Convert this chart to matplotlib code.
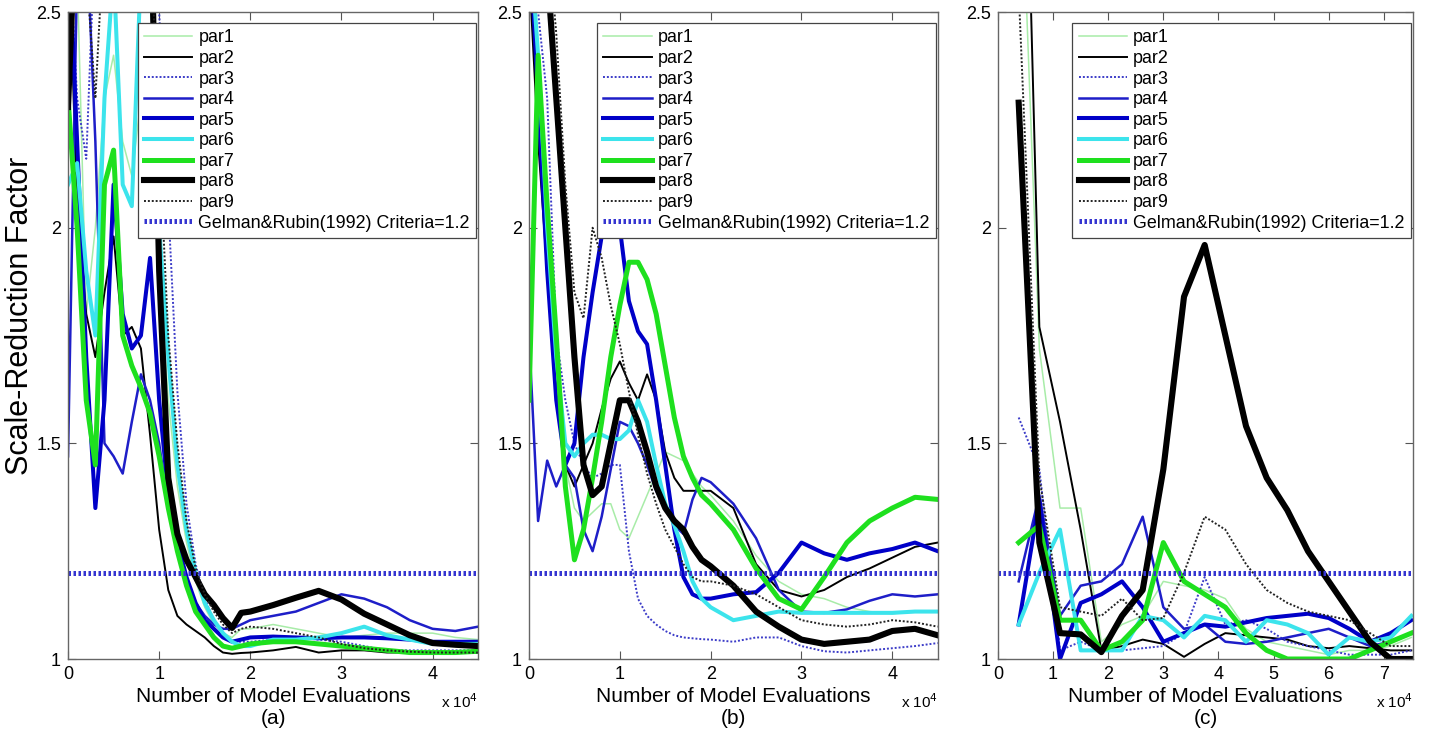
import matplotlib
matplotlib.use("Agg")
import matplotlib.pyplot as plt
from matplotlib.ticker import FixedLocator, FuncFormatter

plt.rcParams['font.family'] = ['Liberation Sans', 'DejaVu Sans']

# x grid (model evaluations) for panels (a) and (b)
x_ab = [0, 1000, 2000, 3000, 4000, 5000, 6000, 7000, 8000, 9000, 10000,
        11000, 12000, 13000, 14000, 15000, 16000, 17000, 18000, 19000, 20000,
        22500, 25000, 27500, 30000, 32500, 35000, 37500, 40000, 42500, 45000]

# panel (a)
a_par1 = [2.8, 2.6, 1.8, 2.0, 2.3, 2.4, 2.2, 2.12, 2.3, 2.2, 1.9, 1.6, 1.4, 1.27, 1.18, 1.12,
          1.08, 1.06, 1.05, 1.07, 1.07, 1.08, 1.07, 1.06, 1.05, 1.055, 1.06, 1.06, 1.06, 1.05, 1.045]
a_par2 = [2.7, 2.05, 1.8, 1.7, 1.85, 1.98, 1.75, 1.77, 1.72, 1.52, 1.3, 1.16, 1.1, 1.08, 1.065, 1.05,
          1.03, 1.015, 1.012, 1.014, 1.015, 1.02, 1.028, 1.015, 1.02, 1.02, 1.015, 1.015, 1.015, 1.015, 1.015]
a_par3 = [2.7, 2.3, 2.16, 2.7, 2.7, 2.7, 2.7, 2.7, 2.7, 2.7, 2.5, 2.05, 1.62, 1.36, 1.22, 1.14,
          1.09, 1.06, 1.04, 1.04, 1.04, 1.045, 1.05, 1.045, 1.04, 1.03, 1.02, 1.02, 1.02, 1.02, 1.02]
a_par4 = [1.47, 2.6, 2.7, 2.2, 1.5, 1.47, 1.43, 1.55, 1.66, 1.6, 1.5, 1.35, 1.25, 1.18, 1.13, 1.10,
          1.08, 1.07, 1.07, 1.08, 1.09, 1.10, 1.11, 1.13, 1.15, 1.14, 1.12, 1.09, 1.07, 1.065, 1.075]
a_par5 = [2.7, 2.2, 1.7, 1.35, 1.6, 2.1, 1.8, 1.72, 1.75, 1.93, 1.6, 1.38, 1.27, 1.19, 1.13, 1.09,
          1.07, 1.05, 1.04, 1.045, 1.05, 1.052, 1.05, 1.048, 1.05, 1.05, 1.048, 1.045, 1.04, 1.04, 1.04]
a_par6 = [2.1, 2.15, 1.9, 1.75, 2.3, 2.6, 2.1, 2.05, 2.6, 2.7, 2.0, 1.7, 1.45, 1.3, 1.2, 1.13,
          1.09, 1.06, 1.04, 1.03, 1.03, 1.045, 1.045, 1.05, 1.06, 1.075, 1.055, 1.045, 1.035, 1.035, 1.035]
a_par7 = [2.3, 2.0, 1.6, 1.45, 2.1, 2.18, 1.75, 1.68, 1.63, 1.57, 1.47, 1.35, 1.25, 1.17, 1.11, 1.08,
          1.05, 1.03, 1.025, 1.03, 1.035, 1.04, 1.04, 1.035, 1.03, 1.025, 1.02, 1.015, 1.015, 1.015, 1.018]
a_par8 = [2.28, 2.8, 2.8, 2.8, 2.8, 2.8, 2.8, 2.8, 2.8, 2.8, 1.9, 1.42, 1.29, 1.23, 1.19, 1.15,
          1.125, 1.095, 1.072, 1.107, 1.11, 1.125, 1.142, 1.158, 1.138, 1.105, 1.08, 1.055, 1.037, 1.033, 1.03]
a_par9 = [2.7, 2.7, 2.6, 2.3, 2.7, 2.7, 2.7, 2.7, 2.7, 2.7, 2.2, 1.75, 1.5, 1.32, 1.21, 1.15,
          1.11, 1.08, 1.06, 1.07, 1.075, 1.07, 1.06, 1.05, 1.035, 1.025, 1.02, 1.017, 1.015, 1.015, 1.015]

# panel (b)
b_par1 = [2.6, 2.3, 1.9, 1.6, 1.45, 1.35, 1.32, 1.34, 1.36, 1.36, 1.3, 1.28, 1.33, 1.38, 1.43, 1.48,
          1.47, 1.46, 1.43, 1.4, 1.38, 1.32, 1.24, 1.18, 1.15, 1.14, 1.12, 1.11, 1.105, 1.11, 1.11]
b_par2 = [2.6, 2.2, 1.9, 1.7, 1.45, 1.4, 1.45, 1.5, 1.58, 1.65, 1.69, 1.64, 1.6, 1.66, 1.6, 1.48,
          1.42, 1.39, 1.39, 1.39, 1.39, 1.35, 1.22, 1.16, 1.145, 1.16, 1.19, 1.21, 1.235, 1.26, 1.27]
b_par3 = [2.7, 2.5, 2.3, 1.75, 1.6, 1.5, 1.45, 1.42, 1.43, 1.45, 1.45, 1.25, 1.14, 1.1, 1.08, 1.065,
          1.055, 1.05, 1.048, 1.046, 1.045, 1.04, 1.05, 1.05, 1.03, 1.018, 1.015, 1.02, 1.025, 1.03, 1.037]
b_par4 = [1.75, 1.32, 1.46, 1.4, 1.45, 1.42, 1.3, 1.25, 1.33, 1.44, 1.55, 1.54, 1.5, 1.45, 1.39, 1.35,
          1.31, 1.29, 1.37, 1.42, 1.41, 1.36, 1.28, 1.16, 1.11, 1.107, 1.115, 1.135, 1.15, 1.145, 1.15]
b_par5 = [2.7, 2.3, 1.9, 1.6, 1.45, 1.5, 1.7, 1.85, 1.98, 2.05, 2.0, 1.83, 1.76, 1.73, 1.6, 1.45,
          1.3, 1.19, 1.15, 1.14, 1.14, 1.15, 1.155, 1.2, 1.27, 1.245, 1.23, 1.245, 1.255, 1.27, 1.25]
b_par6 = [2.7, 2.4, 2.0, 1.7, 1.5, 1.47, 1.5, 1.52, 1.52, 1.51, 1.51, 1.53, 1.6, 1.55, 1.45, 1.36,
          1.31, 1.25, 1.18, 1.14, 1.12, 1.09, 1.1, 1.11, 1.107, 1.107, 1.107, 1.107, 1.107, 1.11, 1.11]
b_par7 = [1.6, 2.4, 2.05, 1.75, 1.4, 1.23, 1.3, 1.42, 1.55, 1.7, 1.82, 1.92, 1.92, 1.88, 1.8, 1.68,
          1.56, 1.47, 1.42, 1.38, 1.36, 1.3, 1.21, 1.14, 1.115, 1.19, 1.27, 1.32, 1.35, 1.375, 1.37]
b_par8 = [2.8, 2.8, 2.6, 2.3, 2.0, 1.7, 1.45, 1.38, 1.4, 1.5, 1.6, 1.6, 1.55, 1.48, 1.4, 1.35,
          1.32, 1.3, 1.26, 1.23, 1.215, 1.17, 1.11, 1.075, 1.045, 1.035, 1.04, 1.045, 1.065, 1.07, 1.055]
b_par9 = [2.7, 2.7, 2.7, 2.45, 2.1, 1.85, 1.79, 2.0, 1.93, 1.82, 1.73, 1.62, 1.52, 1.43, 1.36, 1.3,
          1.26, 1.22, 1.19, 1.18, 1.18, 1.17, 1.15, 1.12, 1.09, 1.08, 1.075, 1.08, 1.09, 1.085, 1.075]

# panel (c): coarser sampling
x_c = [3750, 7500, 11250, 15000, 18750, 22500, 26250, 30000, 33750, 37500,
       41250, 45000, 48750, 52500, 56250, 60000, 63750, 67500, 71250, 75000]
c_par1 = [3.0, 1.72, 1.35, 1.35, 1.04, 1.08, 1.10, 1.18, 1.17, 1.16, 1.14, 1.07, 1.04, 1.03, 1.02, 1.01, 1.02, 1.02, 1.03, 1.05]
c_par2 = [3.6, 1.77, 1.55, 1.30, 1.02, 1.03, 1.045, 1.035, 1.005, 1.035, 1.06, 1.055, 1.05, 1.045, 1.03, 1.025, 1.03, 1.025, 1.02, 1.02]
c_par3 = [1.56, 1.44, 1.02, 1.04, 1.02, 1.02, 1.025, 1.03, 1.06, 1.19, 1.08, 1.09, 1.07, 1.04, 1.03, 1.02, 1.01, 1.01, 1.01, 1.02]
c_par4 = [1.18, 1.38, 1.10, 1.17, 1.18, 1.22, 1.33, 1.12, 1.07, 1.08, 1.04, 1.035, 1.04, 1.05, 1.06, 1.07, 1.05, 1.03, 1.04, 1.06]
c_par5 = [1.08, 1.37, 1.00, 1.13, 1.15, 1.18, 1.12, 1.04, 1.06, 1.08, 1.075, 1.085, 1.095, 1.10, 1.105, 1.095, 1.07, 1.04, 1.06, 1.09]
c_par6 = [1.08, 1.20, 1.30, 1.02, 1.02, 1.02, 1.10, 1.09, 1.05, 1.10, 1.09, 1.04, 1.09, 1.08, 1.06, 1.01, 1.05, 1.04, 1.05, 1.10]
c_par7 = [1.27, 1.31, 1.09, 1.09, 1.02, 1.04, 1.09, 1.27, 1.18, 1.15, 1.12, 1.06, 1.02, 1.00, 1.00, 1.00, 1.00, 1.02, 1.04, 1.06]
c_par8 = [2.29, 1.27, 1.06, 1.057, 1.016, 1.10, 1.16, 1.44, 1.84, 1.96, 1.75, 1.54, 1.42, 1.345, 1.25, 1.18, 1.11, 1.04, 1.00, 1.00]
c_par9 = [2.55, 1.42, 1.12, 1.11, 1.10, 1.14, 1.09, 1.095, 1.20, 1.33, 1.30, 1.22, 1.16, 1.13, 1.11, 1.10, 1.09, 1.06, 1.03, 1.03]

criteria = 1.2
labels = ['par1', 'par2', 'par3', 'par4', 'par5', 'par6', 'par7', 'par8', 'par9']
panel_tags = ['(a)', '(b)', '(c)']

styles = [
    dict(color='#a8eca8', lw=1.1, ls='-'),
    dict(color='black', lw=1.4, ls='-'),
    dict(color='#3c3cc8', lw=1.4, ls=(0, (1, 1))),
    dict(color='#1e1ec8', lw=1.8, ls='-'),
    dict(color='#0000c8', lw=2.9, ls='-'),
    dict(color='#3ce4ec', lw=2.9, ls='-'),
    dict(color='#1ee01e', lw=3.6, ls='-'),
    dict(color='black', lw=4.4, ls='-'),
    dict(color='#222222', lw=1.4, ls=(0, (1, 1))),
]

panels = [
    (x_ab, [a_par1, a_par2, a_par3, a_par4, a_par5, a_par6, a_par7, a_par8, a_par9], 45000, [0, 1, 2, 3, 4]),
    (x_ab, [b_par1, b_par2, b_par3, b_par4, b_par5, b_par6, b_par7, b_par8, b_par9], 45000, [0, 1, 2, 3, 4]),
    (x_c, [c_par1, c_par2, c_par3, c_par4, c_par5, c_par6, c_par7, c_par8, c_par9], 75300, [0, 1, 2, 3, 4, 5, 6, 7]),
]

fig = plt.figure(figsize=(14.29, 7.47), dpi=100)
lefts = [0.0476, 0.3702, 0.6984]
widths = [0.287, 0.286, 0.2904]

for i, (xs, series, xmax, ticks) in enumerate(panels):
    ax = fig.add_axes([lefts[i], 0.1178, widths[i], 0.866])
    for ys, lab, st in zip(series, labels, styles):
        ax.plot(xs, ys, label=lab, solid_joinstyle='round', **st)
    ax.axhline(criteria, color='#3434d0', lw=3.6, ls=(0, (0.5, 0.5)),
               label='Gelman&Rubin(1992) Criteria=1.2')

    ax.set_xlim(0, xmax)
    ax.set_ylim(1, 2.5)
    ax.xaxis.set_major_locator(FixedLocator([t * 10000 for t in ticks]))
    ax.xaxis.set_major_formatter(FuncFormatter(lambda v, p: '%d' % round(v / 10000)))
    ax.yaxis.set_major_locator(FixedLocator([1, 1.5, 2, 2.5]))
    ax.yaxis.set_major_formatter(FuncFormatter(lambda v, p: '%g' % v))
    ax.tick_params(direction='in', top=True, right=True, length=6, width=0.8,
                   labelsize=13, color='#555555', pad=5)
    for sp in ax.spines.values():
        sp.set_color('#666666')
        sp.set_linewidth(1.0)

    ax.set_xlabel('Number of Model Evaluations', fontsize=15, labelpad=3)
    ax.text(1.0, -0.066, r'x 10$^{4}$', transform=ax.transAxes, ha='right', va='center', fontsize=11)
    ax.text(0.5, -0.092, panel_tags[i], transform=ax.transAxes, ha='center', va='center', fontsize=15)

    leg = ax.legend(loc='upper right', bbox_to_anchor=(0.995, 0.983), borderaxespad=0,
                    fontsize=12.9, handlelength=2.7, handletextpad=0.35, labelspacing=0.2,
                    borderpad=0.35, fancybox=False, framealpha=1, edgecolor='#444444')
    leg.get_frame().set_linewidth(0.9)

    if i == 0:
        ax.set_ylabel('Scale-Reduction Factor', fontsize=22)
        ax.yaxis.set_label_coords(-0.08, 0.53)

fig.savefig('out.png', dpi=100)
